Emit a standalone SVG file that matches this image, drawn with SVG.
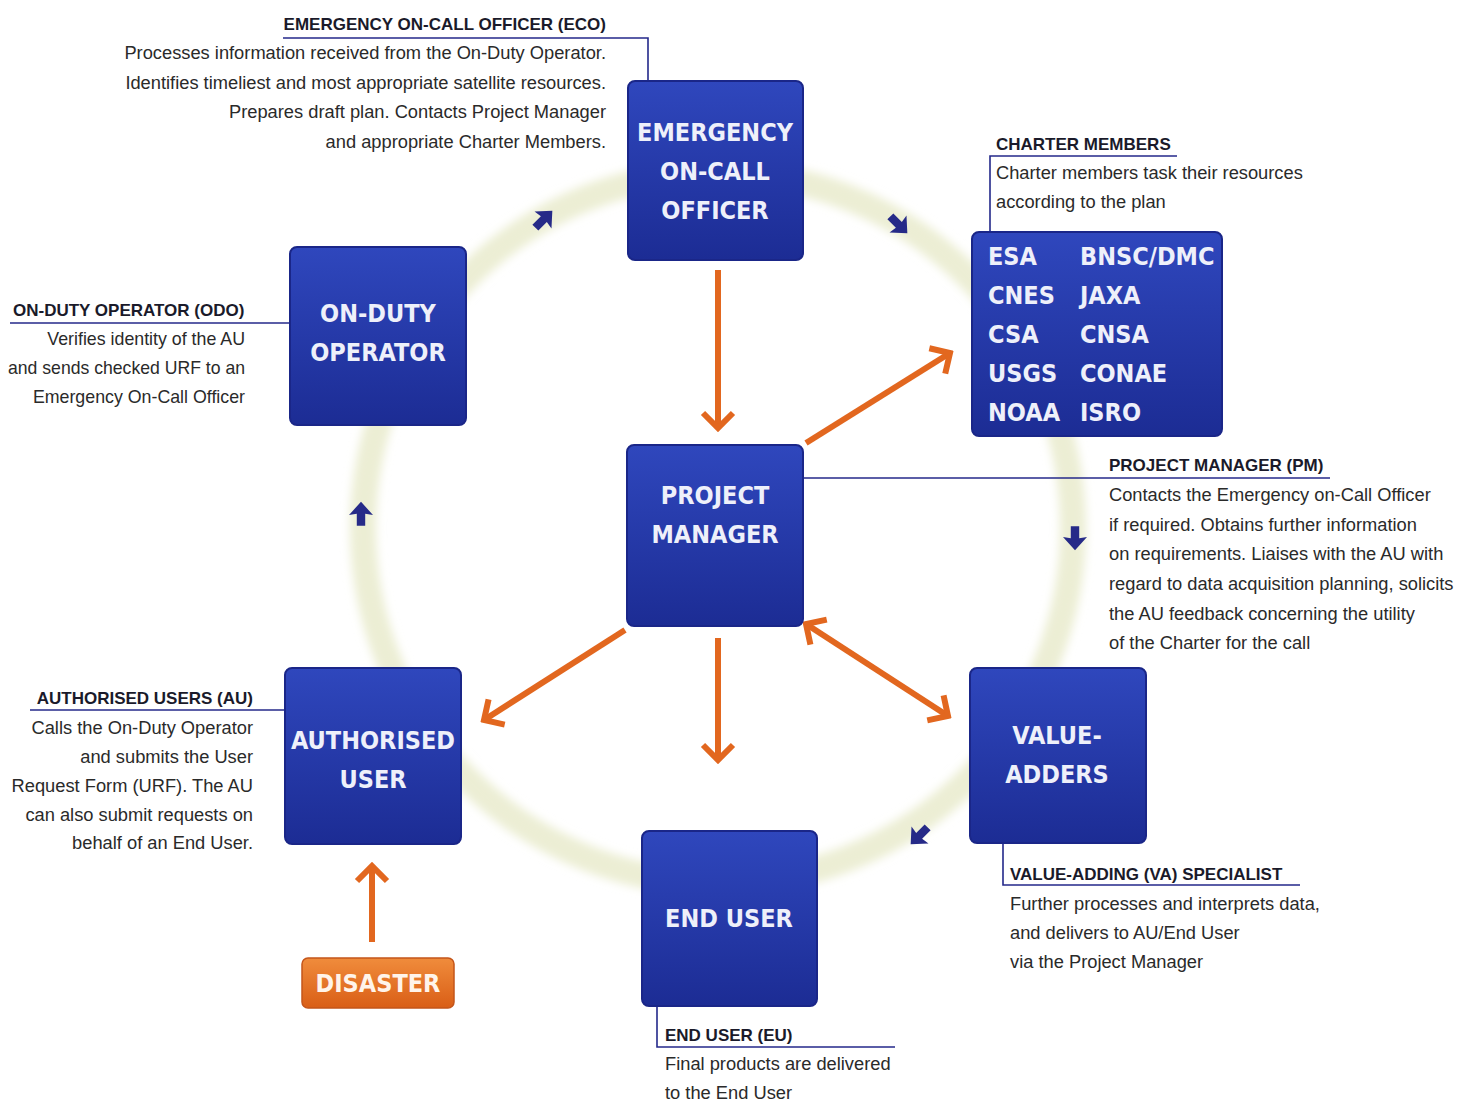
<svg xmlns="http://www.w3.org/2000/svg" width="1482" height="1101" viewBox="0 0 1482 1101">
<style>
.box{fill:url(#blue);stroke:#1a2688;stroke-width:2}
.lbl{font-family:"DejaVu Sans Condensed","DejaVu Sans",sans-serif;font-weight:bold;font-size:25px;fill:#eef0fa;text-anchor:middle}
.mem{font-family:"DejaVu Sans Condensed","DejaVu Sans",sans-serif;font-weight:bold;font-size:25px;fill:#eef0fa}
.ttl{font-family:"Liberation Sans",Arial,sans-serif;font-weight:bold;font-size:17px;fill:#1a1a2a}
.txt{font-family:"Liberation Sans",Arial,sans-serif;font-size:18.3px;fill:#2a2a2a}
.end{text-anchor:end}
.lead{fill:none;stroke:#24288a;stroke-width:1.6}
.oa{fill:none;stroke:#e2671f;stroke-width:6}
.na{fill:#262a88}
</style>
<defs>
<linearGradient id="blue" x1="0" y1="0" x2="0" y2="1">
<stop offset="0" stop-color="#2f47bd"/>
<stop offset="1" stop-color="#1c2c94"/>
</linearGradient>
<linearGradient id="orange" x1="0" y1="0" x2="0" y2="1">
<stop offset="0" stop-color="#f08c3c"/>
<stop offset="1" stop-color="#d95e16"/>
</linearGradient>
<filter id="soft" x="-20%" y="-20%" width="140%" height="140%"><feGaussianBlur stdDeviation="5"/></filter>
<marker id="ch" viewBox="0 0 22 36" markerWidth="22" markerHeight="36" refX="18" refY="18" markerUnits="userSpaceOnUse" orient="auto-start-reverse">
<path d="M3,3 L18,18 L3,33" fill="none" stroke="#e2671f" stroke-width="6"/>
</marker>
<path id="sa" d="M0,-11 L10,0 L3.5,-1 L3.5,9 L-3.5,9 L-3.5,-1 L-10,0 Z"/>
</defs>
<rect width="1482" height="1101" fill="#ffffff"/>
<circle cx="718" cy="528" r="355" fill="none" stroke="#eceed4" stroke-width="26" filter="url(#soft)"/>

<g id="connectors">
<line class="oa" x1="718" y1="270" x2="718" y2="428" marker-end="url(#ch)"/>
<line class="oa" x1="806" y1="443" x2="950" y2="353" marker-end="url(#ch)"/>
<line class="oa" x1="625" y1="630" x2="484" y2="720" marker-end="url(#ch)"/>
<line class="oa" x1="718" y1="638" x2="718" y2="760" marker-end="url(#ch)"/>
<line class="oa" x1="806" y1="624" x2="948" y2="716" marker-start="url(#ch)" marker-end="url(#ch)"/>
<line class="oa" x1="372" y1="942" x2="372" y2="866" marker-end="url(#ch)"/>
<use href="#sa" class="na" transform="translate(543,220) rotate(45) scale(1.2)"/>
<use href="#sa" class="na" transform="translate(898,224) rotate(135) scale(1.2)"/>
<use href="#sa" class="na" transform="translate(1075,537) rotate(180) scale(1.2)"/>
<use href="#sa" class="na" transform="translate(920,835) rotate(225) scale(1.2)"/>
<use href="#sa" class="na" transform="translate(361,515) scale(1.2)"/>
<polyline class="lead" points="283,38 648,38 648,81"/>
<polyline class="lead" points="1177,156 990,156 990,232"/>
<line class="lead" x1="10" y1="323" x2="290" y2="323"/>
<line class="lead" x1="803" y1="478" x2="1330" y2="478"/>
<line class="lead" x1="30" y1="710" x2="285" y2="710"/>
<polyline class="lead" points="1003,843 1003,885 1300,885"/>
<polyline class="lead" points="657,1006 657,1047 895,1047"/>
</g>

<g id="eco">
<rect class="box" x="628" y="81" width="175" height="179" rx="7"/>
<text class="lbl" x="715" y="141">EMERGENCY</text>
<text class="lbl" x="715" y="180">ON-CALL</text>
<text class="lbl" x="715" y="219">OFFICER</text>
</g>
<g id="odo">
<rect class="box" x="290" y="247" width="176" height="178" rx="7"/>
<text class="lbl" x="378" y="322">ON-DUTY</text>
<text class="lbl" x="378" y="361">OPERATOR</text>
</g>
<g id="charter">
<rect class="box" x="972" y="232" width="250" height="204" rx="7"/>
<text class="mem" x="988" y="265">ESA</text><text class="mem" x="1080" y="265">BNSC/DMC</text>
<text class="mem" x="988" y="304">CNES</text><text class="mem" x="1080" y="304">JAXA</text>
<text class="mem" x="988" y="343">CSA</text><text class="mem" x="1080" y="343">CNSA</text>
<text class="mem" x="988" y="382">USGS</text><text class="mem" x="1080" y="382">CONAE</text>
<text class="mem" x="988" y="421">NOAA</text><text class="mem" x="1080" y="421">ISRO</text>
</g>
<g id="pm">
<rect class="box" x="627" y="445" width="176" height="181" rx="7"/>
<text class="lbl" x="715" y="504">PROJECT</text>
<text class="lbl" x="715" y="543">MANAGER</text>
</g>
<g id="au">
<rect class="box" x="285" y="668" width="176" height="176" rx="7"/>
<text class="lbl" x="373" y="749">AUTHORISED</text>
<text class="lbl" x="373" y="788">USER</text>
</g>
<g id="va">
<rect class="box" x="970" y="668" width="176" height="175" rx="7"/>
<text class="lbl" x="1057" y="744">VALUE-</text>
<text class="lbl" x="1057" y="783">ADDERS</text>
</g>
<g id="eu">
<rect class="box" x="642" y="831" width="175" height="175" rx="7"/>
<text class="lbl" x="729" y="927">END USER</text>
</g>
<g id="disaster">
<rect x="302" y="958" width="152" height="50" rx="6" fill="url(#orange)" stroke="#c4551a" stroke-width="1.5"/>
<text class="lbl" x="378" y="992" style="fill:#fff4ea">DISASTER</text>
</g>

<g id="notes">
<text class="ttl end" x="606" y="30">EMERGENCY ON-CALL OFFICER (ECO)</text>
<text class="txt end" x="606" y="59">Processes information received from the On-Duty Operator.</text>
<text class="txt end" x="606" y="89">Identifies timeliest and most appropriate satellite resources.</text>
<text class="txt end" x="606" y="118">Prepares draft plan. Contacts Project Manager</text>
<text class="txt end" x="606" y="148">and appropriate Charter Members.</text>

<text class="ttl" x="996" y="150">CHARTER MEMBERS</text>
<text class="txt" x="996" y="179">Charter members task their resources</text>
<text class="txt" x="996" y="208">according to the plan</text>

<text class="ttl" x="13" y="316">ON-DUTY OPERATOR (ODO)</text>
<text class="txt end" x="245" y="345" style="font-size:17.8px">Verifies identity of the AU</text>
<text class="txt end" x="245" y="374" style="font-size:17.8px" textLength="237" lengthAdjust="spacingAndGlyphs">and sends checked URF to an</text>
<text class="txt end" x="245" y="403" style="font-size:17.8px">Emergency On-Call Officer</text>

<text class="ttl" x="1109" y="471">PROJECT MANAGER (PM)</text>
<text class="txt" x="1109" y="501">Contacts the Emergency on-Call Officer</text>
<text class="txt" x="1109" y="531">if required. Obtains further information</text>
<text class="txt" x="1109" y="560">on requirements. Liaises with the AU with</text>
<text class="txt" x="1109" y="590">regard to data acquisition planning, solicits</text>
<text class="txt" x="1109" y="620">the AU feedback concerning the utility</text>
<text class="txt" x="1109" y="649">of the Charter for the call</text>

<text class="ttl end" x="253" y="704">AUTHORISED USERS (AU)</text>
<text class="txt end" x="253" y="734">Calls the On-Duty Operator</text>
<text class="txt end" x="253" y="763">and submits the User</text>
<text class="txt end" x="253" y="792">Request Form (URF). The AU</text>
<text class="txt end" x="253" y="821">can also submit requests on</text>
<text class="txt end" x="253" y="849">behalf of an End User.</text>

<text class="ttl" x="1010" y="880">VALUE-ADDING (VA) SPECIALIST</text>
<text class="txt" x="1010" y="910">Further processes and interprets data,</text>
<text class="txt" x="1010" y="939">and delivers to AU/End User</text>
<text class="txt" x="1010" y="968">via the Project Manager</text>

<text class="ttl" x="665" y="1041">END USER (EU)</text>
<text class="txt" x="665" y="1070">Final products are delivered</text>
<text class="txt" x="665" y="1099">to the End User</text>
</g>
</svg>
